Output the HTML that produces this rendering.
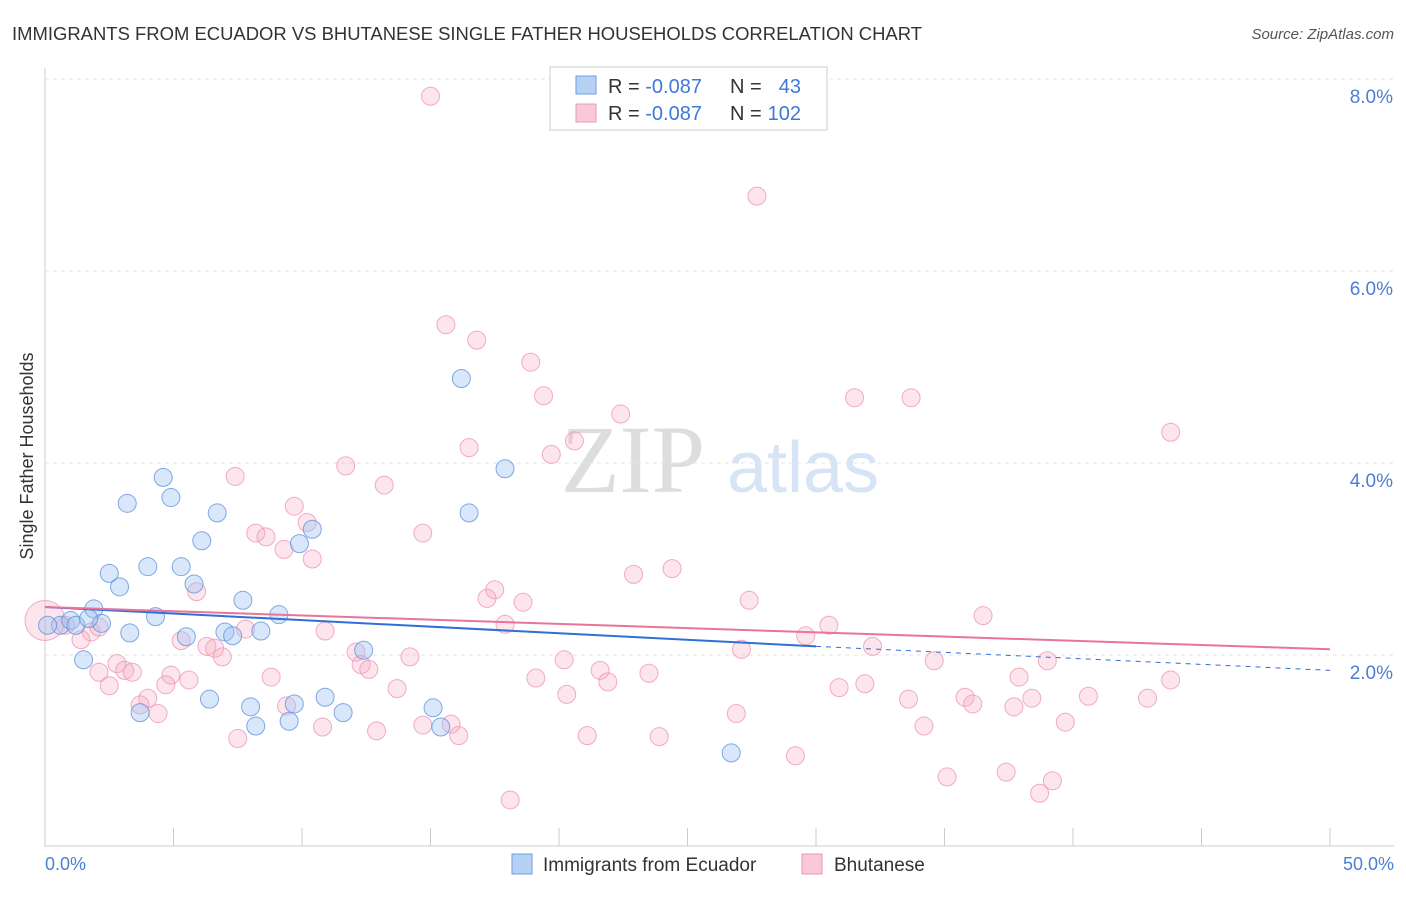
<!DOCTYPE html>
<html><head><meta charset="utf-8"><style>
body{margin:0;background:#fff;font-family:"Liberation Sans",sans-serif;}
</style></head><body>
<svg width="1406" height="892" xmlns="http://www.w3.org/2000/svg">
<text x="12" y="40" font-size="18" fill="#333" textLength="910" lengthAdjust="spacingAndGlyphs">IMMIGRANTS FROM ECUADOR VS BHUTANESE SINGLE FATHER HOUSEHOLDS CORRELATION CHART</text>
<text x="1394" y="39" font-size="15" fill="#555" font-style="italic" text-anchor="end">Source: ZipAtlas.com</text>
<text x="633" y="492" font-size="96" fill="#ddd" font-family="Liberation Serif,serif" text-anchor="middle">ZIP</text>
<text x="803" y="492" font-size="72" fill="#d6e4f6" text-anchor="middle">atlas</text>
<g id="grid"></g>
<line x1="45" y1="68" x2="45" y2="847" stroke="#ccc"/>
<line x1="45" y1="846" x2="1394" y2="846" stroke="#ccc"/>
<text x="33" y="456" font-size="18" fill="#333" transform="rotate(-90 33 456)" text-anchor="middle">Single Father Households</text>
<text x="45" y="870" font-size="18" fill="#4a7fd4">0.0%</text>
<text x="1394" y="870" font-size="18" fill="#4a7fd4" text-anchor="end">50.0%</text>
<g id="pts"></g>
<g id="trend"></g>
<g>
<rect x="550" y="67" width="277" height="63" fill="#fff" stroke="#ccc"/>
<rect x="576" y="76" width="20" height="18" fill="#b7d1f5" stroke="#6d9de0"/>
<rect x="576" y="104" width="20" height="18" fill="#f9c9d8" stroke="#ec9ab5"/>
<text x="608" y="93" font-size="20" fill="#333">R = <tspan fill="#3f78d6">-0.087</tspan></text>
<text x="730" y="93" font-size="20" fill="#333">N =</text>
<text x="801" y="93" font-size="20" fill="#3f78d6" text-anchor="end">43</text>
<text x="608" y="120" font-size="20" fill="#333">R = <tspan fill="#3f78d6">-0.087</tspan></text>
<text x="730" y="120" font-size="20" fill="#333">N =</text>
<text x="801" y="120" font-size="20" fill="#3f78d6" text-anchor="end">102</text>
</g>
<g><rect x="512" y="854" width="20" height="20" fill="#b7d1f5" stroke="#6d9de0"/><text x="543" y="871" font-size="19" fill="#333">Immigrants from Ecuador</text></g>
<g><rect x="802" y="854" width="20" height="20" fill="#f9c9d8" stroke="#ec9ab5"/><text x="834" y="871" font-size="19" fill="#333">Bhutanese</text></g>
</svg>
<script>
const yTicks=[2,4,6,8];
const yTickLabels=["2.0%","4.0%","6.0%","8.0%"];
const xTicks=[0,5,10,15,20,25,30,35,40,45,50];
const blueX=[16.2,17.9,16.5,4.6,3.2,4.9,6.7,6.1,10.4,9.9,2.5,4.0,5.3,2.9,5.8,7.7,1.9,4.3,9.1,2.2,3.3,5.5,7.0,7.3,8.4,12.4,1.5,6.4,8.0,9.7,10.9,15.1,3.7,11.6,8.2,9.5,15.4,26.7,0.6,1.0,1.2,1.7,0.1];
const blueY=[4.88,3.94,3.48,3.85,3.58,3.64,3.48,3.19,3.31,3.16,2.85,2.92,2.92,2.71,2.74,2.57,2.48,2.40,2.42,2.33,2.23,2.19,2.24,2.20,2.25,2.05,1.95,1.54,1.46,1.49,1.56,1.45,1.40,1.40,1.26,1.31,1.25,0.98,2.31,2.36,2.31,2.38,2.31];
const pinkX=[15.0,27.7,15.6,16.8,18.9,19.4,22.4,20.6,16.5,19.7,31.5,33.7,43.8,11.7,7.4,13.2,9.7,10.2,8.2,8.6,14.7,9.3,10.4,22.9,24.4,17.5,17.2,18.6,5.9,27.4,36.5,30.5,29.6,17.9,10.9,7.8,5.3,6.3,6.6,6.9,27.1,32.2,12.1,12.3,12.6,14.2,20.2,39.0,34.6,2.8,2.1,3.1,3.4,4.9,5.6,8.8,19.1,21.6,21.9,23.5,37.9,43.8,40.6,2.5,4.7,4.0,13.7,20.3,30.9,31.9,33.6,35.8,36.1,38.4,42.9,3.7,4.4,9.4,26.9,14.7,15.8,16.1,34.2,39.7,37.7,10.8,12.9,21.1,23.9,7.5,29.2,35.1,37.4,39.2,38.7,18.1,1.4,1.8,2.1,0.8,0.0];
const pinkY=[7.82,6.78,5.44,5.28,5.05,4.70,4.51,4.23,4.16,4.09,4.68,4.68,4.32,3.97,3.86,3.77,3.55,3.38,3.27,3.23,3.27,3.10,3.00,2.84,2.90,2.68,2.59,2.55,2.66,2.57,2.41,2.31,2.20,2.32,2.25,2.27,2.15,2.09,2.07,1.98,2.06,2.09,2.03,1.90,1.85,1.98,1.95,1.94,1.94,1.91,1.82,1.84,1.82,1.79,1.74,1.77,1.76,1.84,1.72,1.81,1.77,1.74,1.57,1.68,1.69,1.55,1.65,1.59,1.66,1.70,1.54,1.56,1.49,1.55,1.55,1.48,1.39,1.47,1.39,1.27,1.28,1.16,1.26,1.30,1.46,1.25,1.21,1.16,1.15,1.13,0.95,0.73,0.78,0.69,0.56,0.49,2.16,2.24,2.29,2.31,2.36];
const blueTrend=[2.50,2.09,1.84];
const pinkTrend=[2.50,2.06];
const NS="http://www.w3.org/2000/svg";
function sx(v){return 45+v*25.7;}
function sy(v){return 847-v*96;}
function mk(t,a,p){const e=document.createElementNS(NS,t);for(const k in a)e.setAttribute(k,a[k]);p.appendChild(e);return e;}
const grid=document.getElementById('grid');
yTicks.forEach((t,i)=>{
 const l=mk('line',{x1:45,x2:1394,y1:sy(t),y2:sy(t),stroke:'#e6e6e6','stroke-dasharray':'4,4'},grid);
 
 
 const tx=mk('text',{x:1393,y:sy(t)+24,'font-size':19,fill:'#4a7fd4','text-anchor':'end'},grid);
 tx.textContent=yTickLabels[i];
 
 
});
xTicks.forEach(t=>{
 const l=mk('line',{x1:sx(t),x2:sx(t),y1:828,y2:846,stroke:'#ccc'},grid);
 
 
});
const pts=document.getElementById('pts');
pinkX.forEach((x,i)=>{
 const big=(i===pinkX.length-1);
 const c=mk('circle',{cx:sx(x),cy:sy(pinkY[i]),r:big?20:9,fill:'rgba(246,170,196,0.3)',stroke:'rgba(236,140,172,0.7)','stroke-width':1},pts);
 
 
});
blueX.forEach((x,i)=>{
 const c=mk('circle',{cx:sx(x),cy:sy(blueY[i]),r:9,fill:'rgba(160,196,242,0.4)',stroke:'rgba(90,142,220,0.75)','stroke-width':1},pts);
 
 
});
const tr=document.getElementById('trend');
let l1=mk('line',{x1:sx(0),y1:sy(blueTrend[0]),x2:sx(30),y2:sy(blueTrend[1]),stroke:'#2f6fd6','stroke-width':2},tr);


let l2=mk('line',{x1:sx(30),y1:sy(blueTrend[1]),x2:sx(50),y2:sy(blueTrend[2]),stroke:'#2f6fd6','stroke-width':1,'stroke-dasharray':'5,5'},tr);


let l3=mk('line',{x1:sx(0),y1:sy(pinkTrend[0]),x2:sx(50),y2:sy(pinkTrend[1]),stroke:'#e8739b','stroke-width':2},tr);


</script>
</body></html>
